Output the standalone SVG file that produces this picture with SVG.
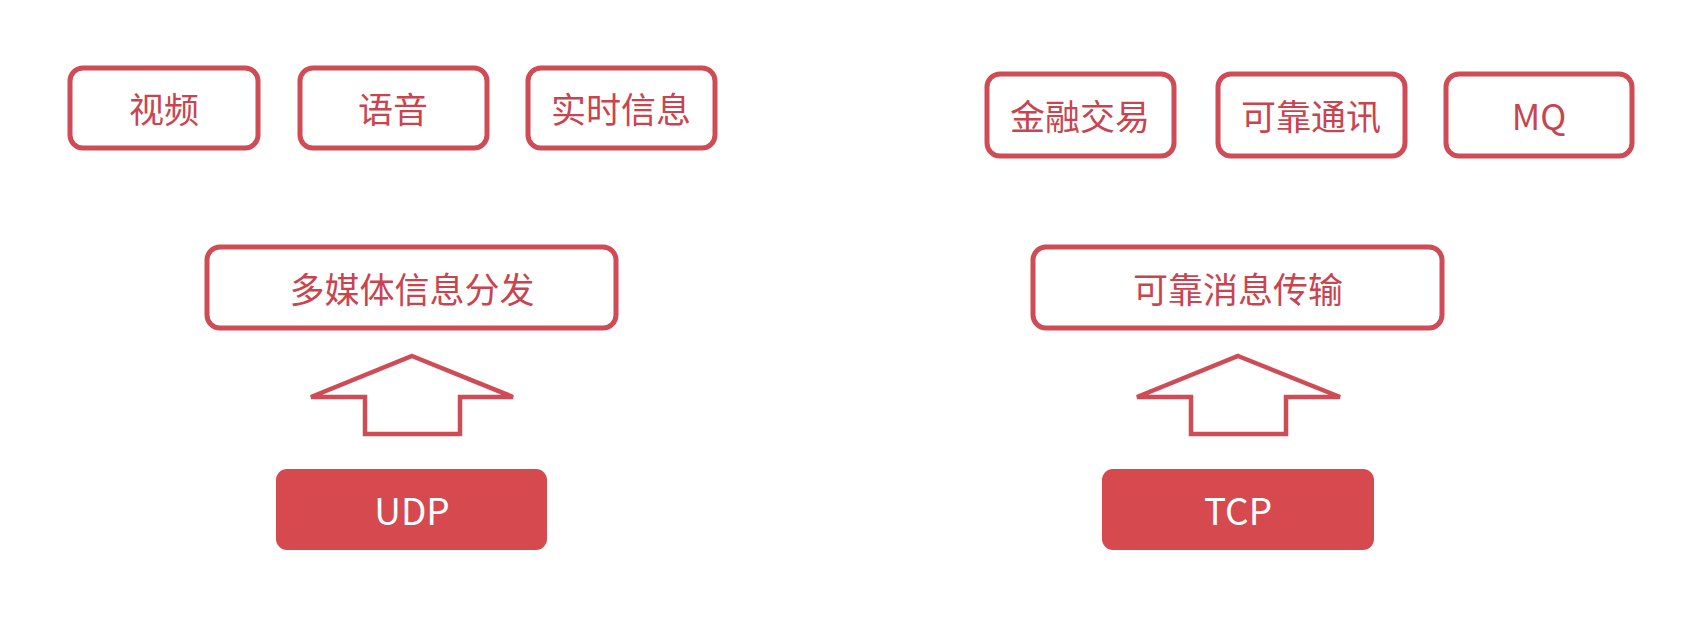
<svg xmlns="http://www.w3.org/2000/svg" width="1690" height="619" viewBox="0 0 1690 619">
<style>
.box{fill:#ffffff;stroke:#cf4b55;stroke-width:5}
.solid{fill:#d6494e;stroke:none}
.t{font-family:"Noto Sans CJK SC","Noto Sans",sans-serif;font-size:35px;fill:#c9444f;text-anchor:middle;dominant-baseline:central}
.w{font-family:"Noto Sans CJK SC","Noto Sans",sans-serif;font-size:37px;fill:#ffffff;text-anchor:middle;dominant-baseline:central}
.arrow{fill:#ffffff;stroke:#cf4b55;stroke-width:4.5;stroke-linejoin:miter}
</style>
<rect width="1690" height="619" fill="#ffffff"/>
<g id="video"><rect class="box" x="70" y="68" width="188" height="80" rx="13"/><text class="t" x="164" y="107">视频</text></g>
<g id="voice"><rect class="box" x="300" y="68" width="187" height="80" rx="13"/><text class="t" x="393" y="107">语音</text></g>
<g id="realtime"><rect class="box" x="528" y="68" width="187" height="80" rx="13"/><text class="t" x="621" y="107">实时信息</text></g>
<g id="finance"><rect class="box" x="987" y="74" width="187" height="82" rx="13"/><text class="t" x="1080" y="114">金融交易</text></g>
<g id="reliable-comm"><rect class="box" x="1218" y="74" width="187" height="82" rx="13"/><text class="t" x="1311" y="114">可靠通讯</text></g>
<g id="mq"><rect class="box" x="1446" y="74" width="186" height="82" rx="13"/><text class="t" x="1539" y="114">MQ</text></g>
<g id="multimedia"><rect class="box" x="207" y="247" width="409" height="81" rx="13"/><text class="t" x="412" y="287">多媒体信息分发</text></g>
<g id="reliable-msg"><rect class="box" x="1033" y="247" width="409" height="81" rx="13"/><text class="t" x="1238" y="287">可靠消息传输</text></g>
<g id="connectors">
<polygon class="arrow" points="412,356 513,397 460,397 460,434 365,434 365,397 311,397"/>
<polygon class="arrow" points="1238,356 1340,397 1286,397 1286,434 1191,434 1191,397 1137,397"/>
</g>
<g id="udp"><rect class="solid" x="276" y="469" width="271" height="81" rx="11"/><text class="w" x="412" y="509">UDP</text></g>
<g id="tcp"><rect class="solid" x="1102" y="469" width="272" height="81" rx="11"/><text class="w" x="1238" y="509">TCP</text></g>
</svg>
